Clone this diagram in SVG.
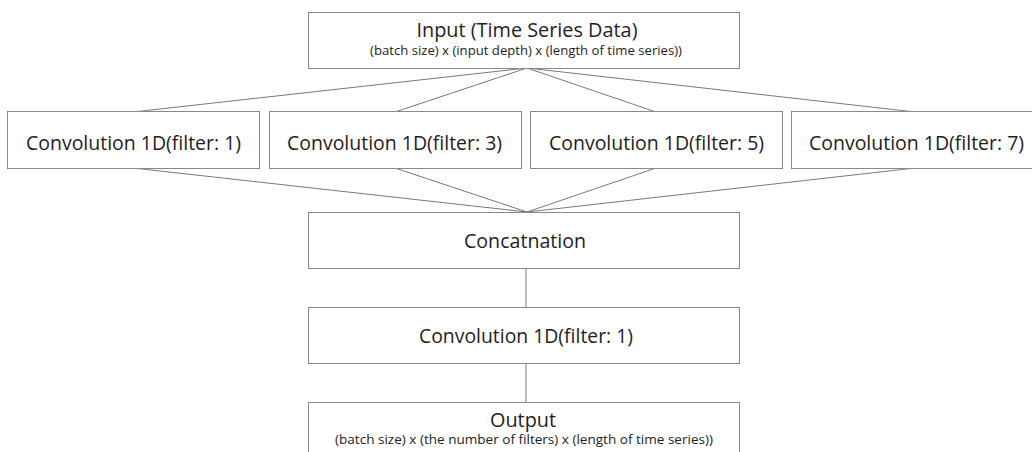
<svg xmlns="http://www.w3.org/2000/svg" width="1032" height="452" viewBox="0 0 1032 452">
<style>
.box{fill:#fff;stroke:#8a8a8a;stroke-width:1}
.t{font-family:"Open Sans","Liberation Sans",sans-serif;fill:#1e1e1e;text-anchor:middle;font-size:20px}
.s{font-family:"Open Sans","Liberation Sans",sans-serif;fill:#1e1e1e;text-anchor:middle;font-size:12.5px}
.c{stroke:#7a7a7a;stroke-width:1;fill:none}
</style>
<rect width="1032" height="452" fill="#fff"/>
<g id="connectors">
<line class="c" x1="527" y1="68" x2="133" y2="112"/>
<line class="c" x1="527" y1="68" x2="395" y2="112"/>
<line class="c" x1="527" y1="68" x2="656" y2="112"/>
<line class="c" x1="527" y1="68" x2="915" y2="112"/>
<line class="c" x1="133" y1="168" x2="527" y2="212"/>
<line class="c" x1="395" y1="168" x2="527" y2="212"/>
<line class="c" x1="656" y1="168" x2="527" y2="212"/>
<line class="c" x1="915" y1="168" x2="527" y2="212"/>
<line class="c" x1="526" y1="268" x2="526" y2="307"/>
<line class="c" x1="526" y1="363" x2="526" y2="402"/>
</g>
<g id="input">
<rect class="box" x="308.5" y="12.5" width="431" height="56"/>
<text class="t" x="527" y="37" textLength="221" lengthAdjust="spacingAndGlyphs">Input (Time Series Data)</text>
<text class="s" x="526" y="55" textLength="312" lengthAdjust="spacingAndGlyphs">(batch size) x (input depth) x (length of time series))</text>
</g>
<g id="conv1">
<rect class="box" x="7.5" y="111.5" width="252" height="57"/>
<text class="t" x="133.5" y="150" textLength="215" lengthAdjust="spacingAndGlyphs">Convolution 1D(filter: 1)</text>
</g>
<g id="conv3">
<rect class="box" x="269.5" y="111.5" width="252" height="57"/>
<text class="t" x="394.5" y="150" textLength="215" lengthAdjust="spacingAndGlyphs">Convolution 1D(filter: 3)</text>
</g>
<g id="conv5">
<rect class="box" x="530.5" y="111.5" width="252" height="57"/>
<text class="t" x="656.5" y="150" textLength="215" lengthAdjust="spacingAndGlyphs">Convolution 1D(filter: 5)</text>
</g>
<g id="conv7">
<rect class="box" x="791.5" y="111.5" width="252" height="57"/>
<text class="t" x="916.5" y="150" textLength="215" lengthAdjust="spacingAndGlyphs">Convolution 1D(filter: 7)</text>
</g>
<g id="concat">
<rect class="box" x="308.5" y="212.5" width="431" height="56"/>
<text class="t" x="525" y="248" textLength="122" lengthAdjust="spacingAndGlyphs">Concatnation</text>
</g>
<g id="conv-final">
<rect class="box" x="308.5" y="307.5" width="431" height="56"/>
<text class="t" x="526" y="343" textLength="214" lengthAdjust="spacingAndGlyphs">Convolution 1D(filter: 1)</text>
</g>
<g id="output">
<rect class="box" x="308.5" y="402.5" width="431" height="70"/>
<text class="t" x="523" y="427" textLength="66" lengthAdjust="spacingAndGlyphs">Output</text>
<text class="s" x="524" y="444" textLength="378" lengthAdjust="spacingAndGlyphs">(batch size) x (the number of filters) x (length of time series))</text>
</g>
</svg>
